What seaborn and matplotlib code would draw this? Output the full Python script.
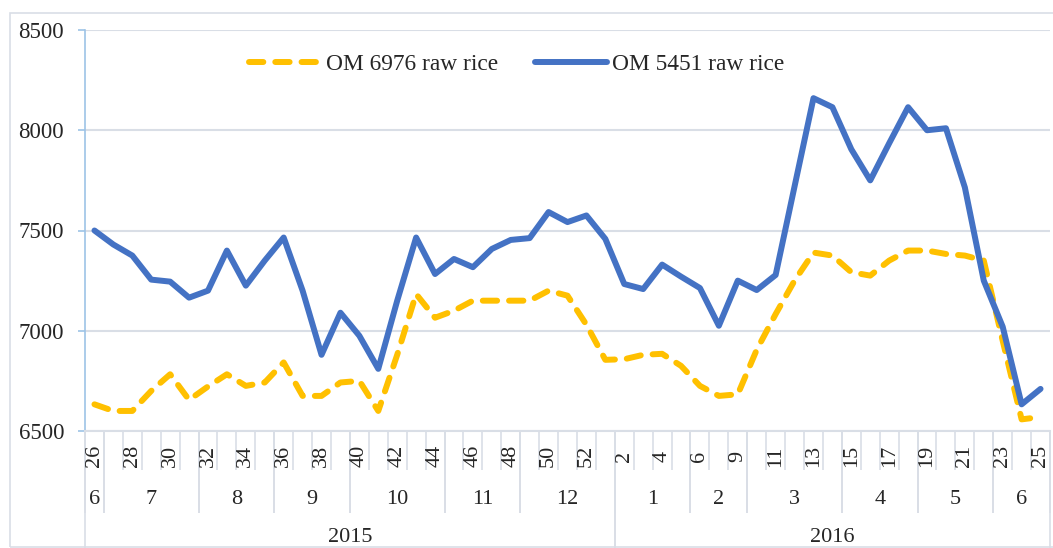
import numpy as np
import pandas as pd
import seaborn as sns
import matplotlib.pyplot as plt
from matplotlib.patches import Rectangle

# datos (precio de arroz por semana)
semanas = list(range(26, 54)) + [2, 3, 4, 5, 6, 8, 9] + list(range(10, 26))
meses = ([6] * 1 + [7] * 5 + [8] * 4 + [9] * 4 + [10] * 5 + [11] * 4 + [12] * 5
         + [1] * 4 + [2] * 3 + [3] * 5 + [4] * 4 + [5] * 4 + [6] * 3)
anios = [2015] * 28 + [2016] * 23

om_6976 = [6633, 6600, 6600, 6700, 6783, 6655, 6722, 6783, 6725, 6742,
           6842, 6675, 6675, 6742, 6750, 6600, 6880, 7183, 7065, 7100,
           7150, 7150, 7150, 7150, 7200, 7175, 7030, 6855, 6858, 6880,
           6885, 6825, 6725, 6675, 6683, 6905, 7083, 7250, 7390, 7375,
           7292, 7275, 7350, 7400, 7400, 7383, 7375, 7350, 6950, 6558,
           6570]
om_5451 = [7500, 7430, 7375, 7255, 7245, 7165, 7200, 7400, 7225, 7350,
           7465, 7200, 6880, 7090, 6975, 6810, 7150, 7465, 7283, 7358,
           7317, 7408, 7453, 7462, 7592, 7542, 7575, 7458, 7233, 7208,
           7330, 7270, 7213, 7025, 7250, 7203, 7278, 7720, 8160, 8115,
           7905, 7750, 7935, 8115, 8000, 8010, 7715, 7250, 7020, 6633,
           6710]

nombres = ['OM 6976 raw rice', 'OM 5451 raw rice']
colores = ['#FFC000', '#4472C4']

df = pd.DataFrame({'pos': np.arange(len(semanas)), 'semana': semanas,
                   'mes': meses, 'anio': anios,
                   nombres[0]: om_6976, nombres[1]: om_5451})

sns.set_theme(style='white')
plt.rcParams['font.family'] = ['Liberation Serif', 'DejaVu Serif']
gris = '#D9DEE6'

W, H = 1053, 548
fig = plt.figure(figsize=(W / 100, H / 100), dpi=100)
ax = fig.add_axes([85 / W, 1 - 431 / H, 965 / W, 401 / H])

# marco exterior
fig.patches.append(Rectangle((10 / W, 1 / H), 1.2, (547 - 13) / H, transform=fig.transFigure,
                             fill=False, edgecolor=gris, linewidth=1.2))

sns.lineplot(data=df, x='pos', y=nombres[0], ax=ax, color=colores[0], linewidth=4.3,
             linestyle=(0, (2.4, 2.0)), dash_capstyle='round', label=nombres[0])
sns.lineplot(data=df, x='pos', y=nombres[1], ax=ax, color=colores[1], linewidth=4.3,
             label=nombres[1])

n = len(df)
ax.set_xlim(-0.5, n - 0.5)
ax.set_ylim(6500, 8500)
ax.set_yticks([6500, 7000, 7500, 8000, 8500])
ax.tick_params(axis='y', labelsize=16.5, length=5, width=1.2, pad=10, left=True)
ax.tick_params(axis='y', color='#9DC3E6')
ax.set_xticks([])
ax.set_xlabel('')
ax.set_ylabel('')
ax.grid(axis='y', color=gris, linewidth=1.5)
ax.set_axisbelow(True)
for s in ['top', 'right']:
    ax.spines[s].set_visible(False)
ax.spines['left'].set_color('#9DC3E6')
ax.spines['left'].set_linewidth(1.2)
ax.spines['bottom'].set_color(gris)
ax.spines['bottom'].set_linewidth(1.5)

leg = ax.legend(loc='center', bbox_to_anchor=(0.447, 0.915), ncol=2, frameon=False,
                fontsize=16.8, handlelength=3.1, handletextpad=0.2, columnspacing=1.6)

# eje x jerarquico: semana / mes / anio
tr = ax.get_xaxis_transform()
px = lambda p: p / 401.0
bordes = np.arange(n + 1) - 0.5
ax.vlines(bordes, -px(39), 0, transform=tr, clip_on=False, color=gris, linewidth=1.2)
for i, s in enumerate(semanas):
    if i % 2 == 0:
        ax.text(i, -px(25), str(s), transform=tr, rotation=90, ha='center', va='center',
                fontsize=16)

grupo_mes = (df['mes'] != df['mes'].shift()).cumsum()
for _, g in df.groupby(grupo_mes):
    ini, fin = g['pos'].min() - 0.5, g['pos'].max() + 0.5
    ax.vlines([ini, fin], -px(82), 0, transform=tr, clip_on=False, color=gris, linewidth=1.2)
    ax.text((ini + fin) / 2, -px(68), str(g['mes'].iloc[0]), transform=tr,
            ha='center', va='center', fontsize=16)

for a, g in df.groupby('anio'):
    ini, fin = g['pos'].min() - 0.5, g['pos'].max() + 0.5
    ax.vlines([ini, fin], -px(120), 0, transform=tr, clip_on=False, color=gris, linewidth=1.2)
    ax.text((ini + fin) / 2, -px(97), str(a), transform=tr, ha='center', va='top',
            fontsize=16)

fig.savefig('out.png', dpi=100)
